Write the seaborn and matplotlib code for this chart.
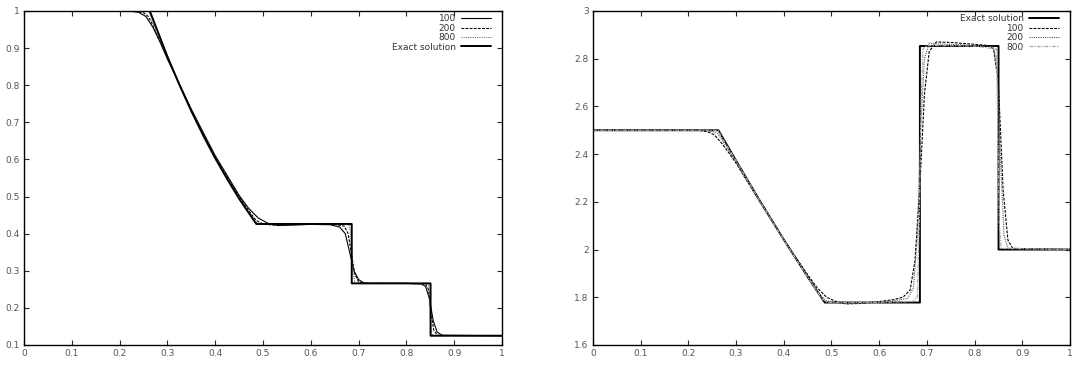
import matplotlib
matplotlib.use("Agg")
import matplotlib.pyplot as plt
import seaborn as sns
from matplotlib.ticker import FormatStrFormatter, MultipleLocator

# ---------------- data: left panel (density) ----------------
xL_exact = [0.0, 0.263, 0.275, 0.30, 0.325, 0.35, 0.375, 0.40, 0.425, 0.45, 0.47, 0.486,
            0.6855, 0.6855, 0.8504, 0.8504, 1.0]
yL_exact = [1.0, 1.0, 0.960, 0.877, 0.801, 0.730, 0.664, 0.603, 0.547, 0.494, 0.456, 0.426,
            0.426, 0.266, 0.266, 0.125, 0.125]

xL_100 = [0.0, 0.22, 0.24, 0.255, 0.27, 0.285, 0.30, 0.35, 0.40, 0.45, 0.47, 0.49, 0.51, 0.53,
          0.56, 0.60, 0.64, 0.66, 0.672, 0.682, 0.69, 0.70, 0.71, 0.72, 0.80, 0.83, 0.84, 0.848,
          0.856, 0.864, 0.875, 1.0]
yL_100 = [1.0, 1.0, 0.996, 0.985, 0.955, 0.915, 0.870, 0.735, 0.610, 0.503, 0.468, 0.442, 0.428,
          0.422, 0.423, 0.425, 0.424, 0.418, 0.400, 0.345, 0.300, 0.276, 0.268, 0.266, 0.266,
          0.265, 0.258, 0.225, 0.165, 0.135, 0.126, 0.125]

xL_200 = [0.0, 0.235, 0.25, 0.26, 0.27, 0.28, 0.30, 0.35, 0.40, 0.45, 0.47, 0.485, 0.50, 0.52,
          0.56, 0.60, 0.65, 0.67, 0.678, 0.685, 0.692, 0.70, 0.71, 0.80, 0.84, 0.846, 0.851,
          0.857, 0.865, 1.0]
yL_200 = [1.0, 1.0, 0.995, 0.985, 0.960, 0.930, 0.874, 0.732, 0.606, 0.499, 0.462, 0.436, 0.426,
          0.423, 0.424, 0.425, 0.425, 0.420, 0.400, 0.345, 0.290, 0.270, 0.266, 0.266, 0.264,
          0.250, 0.190, 0.140, 0.126, 0.125]

xL_800 = [0.0, 0.255, 0.262, 0.27, 0.30, 0.35, 0.40, 0.45, 0.47, 0.483, 0.492, 0.50, 0.56, 0.65,
          0.68, 0.684, 0.688, 0.692, 0.80, 0.846, 0.849, 0.852, 0.855, 1.0]
yL_800 = [1.0, 1.0, 0.997, 0.965, 0.877, 0.731, 0.604, 0.495, 0.458, 0.433, 0.427, 0.426, 0.426,
          0.426, 0.424, 0.390, 0.300, 0.267, 0.266, 0.264, 0.200, 0.135, 0.125, 0.125]

# ---------------- data: right panel (internal energy) ----------------
xR_exact = [0.0, 0.263, 0.30, 0.35, 0.40, 0.45, 0.486, 0.6855, 0.6855, 0.8504, 0.8504, 1.0]
yR_exact = [2.5, 2.5, 2.373, 2.204, 2.042, 1.886, 1.778, 1.778, 2.853, 2.853, 2.0, 2.0]

xR_100 = [0.0, 0.22, 0.24, 0.255, 0.27, 0.285, 0.30, 0.35, 0.40, 0.45, 0.47, 0.49, 0.51, 0.53,
          0.56, 0.60, 0.63, 0.65, 0.665, 0.675, 0.685, 0.695, 0.705, 0.72, 0.75, 0.80, 0.83,
          0.84, 0.85, 0.86, 0.87, 0.88, 1.0]
yR_100 = [2.5, 2.5, 2.494, 2.48, 2.445, 2.405, 2.362, 2.200, 2.042, 1.895, 1.840, 1.800, 1.782,
          1.772, 1.774, 1.782, 1.79, 1.80, 1.83, 1.95, 2.25, 2.65, 2.83, 2.87, 2.868, 2.86,
          2.855, 2.84, 2.70, 2.25, 2.04, 2.005, 2.0]

xR_200 = [0.0, 0.235, 0.25, 0.262, 0.275, 0.29, 0.30, 0.35, 0.40, 0.45, 0.475, 0.49, 0.51, 0.53,
          0.58, 0.63, 0.66, 0.672, 0.68, 0.687, 0.695, 0.705, 0.72, 0.80, 0.84, 0.848, 0.855,
          0.862, 0.87, 1.0]
yR_200 = [2.5, 2.5, 2.495, 2.485, 2.445, 2.398, 2.368, 2.202, 2.041, 1.888, 1.81, 1.785, 1.776,
          1.774, 1.778, 1.785, 1.795, 1.84, 2.05, 2.50, 2.80, 2.865, 2.862, 2.856, 2.85, 2.75,
          2.35, 2.06, 2.005, 2.0]

xR_800 = [0.0, 0.255, 0.263, 0.27, 0.30, 0.35, 0.40, 0.45, 0.48, 0.49, 0.50, 0.58, 0.67, 0.68,
          0.684, 0.688, 0.692, 0.70, 0.80, 0.846, 0.849, 0.852, 0.856, 1.0]
yR_800 = [2.5, 2.5, 2.497, 2.47, 2.372, 2.203, 2.041, 1.885, 1.795, 1.780, 1.778, 1.778, 1.782,
          1.80, 2.10, 2.60, 2.84, 2.855, 2.853, 2.84, 2.50, 2.10, 2.005, 2.0]

x_ticks = [0, 0.1, 0.2, 0.3, 0.4, 0.5, 0.6, 0.7, 0.8, 0.9, 1.0]

# ---------------- style ----------------
sns.set_style("ticks", {
    "xtick.direction": "in", "ytick.direction": "in",
    "axes.edgecolor": "black", "axes.linewidth": 1.0,
})
plt.rcParams["font.family"] = ["DejaVu Sans"]

fig = plt.figure(figsize=(10.83, 3.72), dpi=100)
axL = fig.add_axes([0.0222, 0.0726, 0.4414, 0.898])
axR = fig.add_axes([0.5475, 0.0726, 0.4404, 0.898])

# left panel: 100 solid thin, 200 dashed, 800 dotted grey, exact solid thicker
sns.lineplot(x=xL_100, y=yL_100, ax=axL, sort=False, estimator=None, color="black",
             lw=0.8, label="100")
sns.lineplot(x=xL_200, y=yL_200, ax=axL, sort=False, estimator=None, color="black",
             lw=0.8, linestyle=(0, (2.5, 1.2)), label="200")
sns.lineplot(x=xL_800, y=yL_800, ax=axL, sort=False, estimator=None, color="#777777",
             lw=0.8, linestyle=(0, (1, 1)), label="800")
sns.lineplot(x=xL_exact, y=yL_exact, ax=axL, sort=False, estimator=None, color="black",
             lw=1.4, label="Exact solution")

# right panel: exact solid, 100 dashed, 200 dotted, 800 light grey dash-dot
sns.lineplot(x=xR_exact, y=yR_exact, ax=axR, sort=False, estimator=None, color="black",
             lw=1.4, label="Exact solution")
sns.lineplot(x=xR_100, y=yR_100, ax=axR, sort=False, estimator=None, color="black",
             lw=0.8, linestyle=(0, (2.5, 1.2)), label="100")
sns.lineplot(x=xR_200, y=yR_200, ax=axR, sort=False, estimator=None, color="#555555",
             lw=0.8, linestyle=(0, (1, 1)), label="200")
sns.lineplot(x=xR_800, y=yR_800, ax=axR, sort=False, estimator=None, color="#aaaaaa",
             lw=0.9, linestyle=(0, (3, 1, 1, 1)), label="800")

def style_axes(ax, ylo, yhi, ystep):
    ax.set_xlim(0, 1)
    ax.set_ylim(ylo, yhi)
    ax.set_xticks(x_ticks)
    ax.yaxis.set_major_locator(MultipleLocator(ystep))
    ax.xaxis.set_major_formatter(FormatStrFormatter("%g"))
    ax.yaxis.set_major_formatter(FormatStrFormatter("%g"))
    ax.tick_params(axis="both", which="major", direction="in", length=3.5, width=0.8,
                   top=True, right=True, labelsize=6.5, labelcolor="#555555", pad=3)
    ax.set_xlabel("")
    ax.set_ylabel("")
    for s in ax.spines.values():
        s.set_visible(True)
        s.set_linewidth(1.0)
    leg = ax.legend(loc="upper right", bbox_to_anchor=(0.977, 0.99), frameon=False,
                    fontsize=6.5, markerfirst=False,
                    handlelength=3.3, handletextpad=0.6, labelspacing=0.05,
                    borderaxespad=0.0, borderpad=0.0)
    for t in leg.get_texts():
        t.set_color("#333333")

style_axes(axL, 0.1, 1.0, 0.1)
style_axes(axR, 1.6, 3.0, 0.2)

fig.savefig("out.png", dpi=100)
